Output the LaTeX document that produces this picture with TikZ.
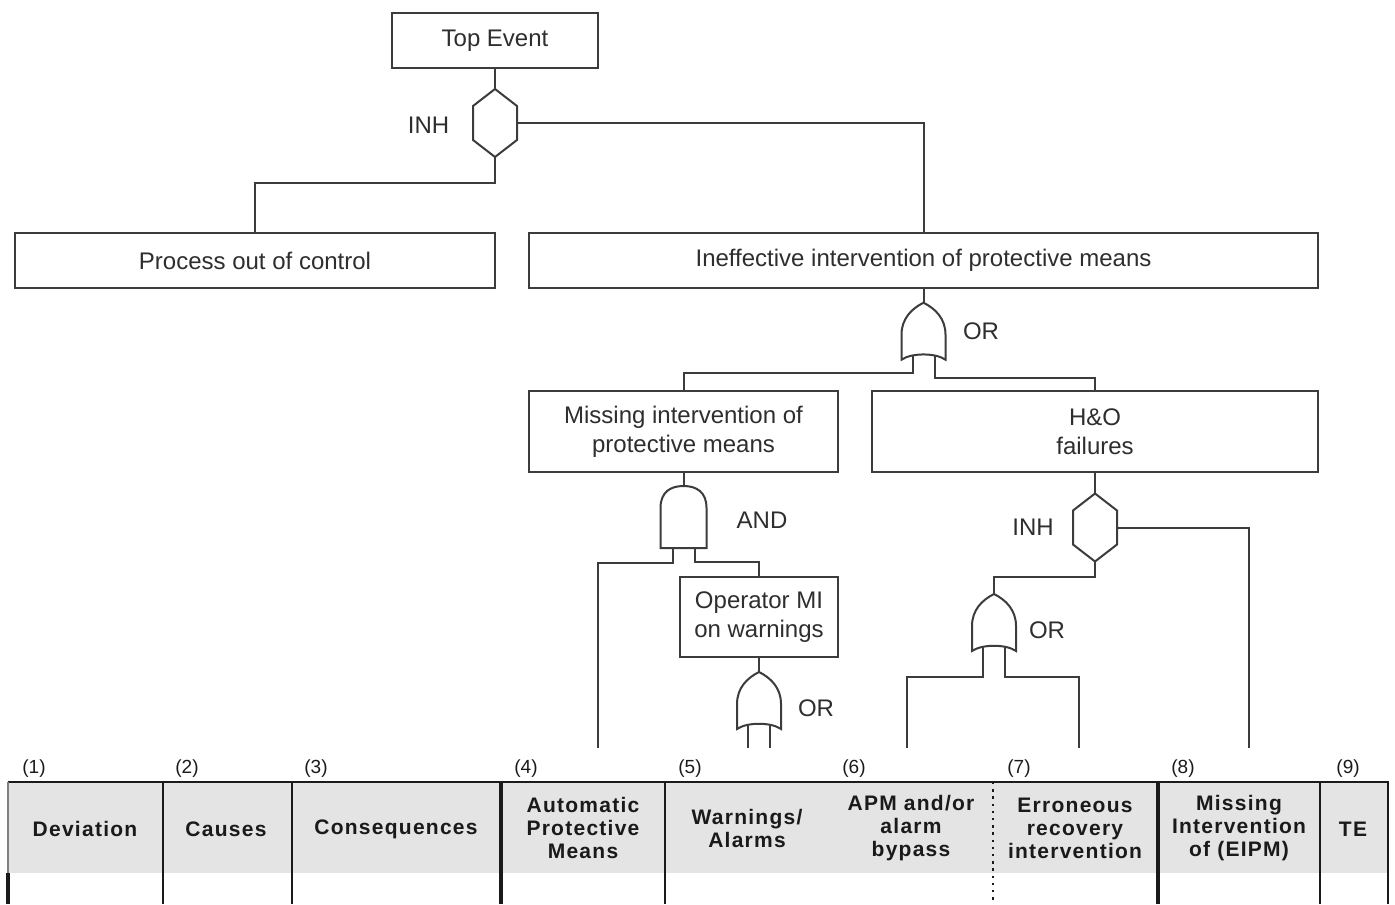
\documentclass[tikz,border=0pt]{standalone}
\usepackage{fontspec}
\setmainfont{Liberation Sans}
\newfontfamily\hdrfont[LetterSpace=6]{Liberation Sans}
\usetikzlibrary{calc}
\definecolor{linec}{HTML}{3C3C3C}
\definecolor{textc}{HTML}{2E2E2E}
\definecolor{hdrgray}{HTML}{E4E4E4}
\definecolor{tblc}{HTML}{1A1A1A}
\begin{document}
\begin{tikzpicture}[x=0.5pt,y=-0.5pt,
  conn/.style={draw=linec, line width=1pt},
  gateline/.style={draw=linec, line width=1pt, fill=white, line join=miter},
  box/.style={draw=linec, line width=1pt, fill=white, text=textc, align=center,
    inner sep=0pt, font=\fontsize{12}{14.5}\selectfont},
  lab/.style={text=textc, inner sep=0pt, font=\fontsize{12}{14}\selectfont},
  num/.style={text=tblc, inner sep=0pt, anchor=west, font=\fontsize{9.5}{11}\selectfont},
  hdr/.style={text=tblc, inner sep=0pt, align=center, font=\hdrfont\bfseries\fontsize{10.5}{11.5}\selectfont},
  tthin/.style={draw=tblc, line width=0.8pt},
  tthick/.style={draw=tblc, line width=1.6pt},
  inhgate/.pic={
    \draw[gateline] (0,-34) -- (22,-17) -- (22,17) -- (0,34) -- (-22,17) -- (-22,-17) -- cycle;
    \coordinate (-t) at (0,-34);
    \coordinate (-b) at (0,34);
    \coordinate (-r) at (22,0);
  },
  orgate/.pic={
    \draw[gateline] (0,0) .. controls (12,6) and (22,16) .. (22,32) -- (22,57)
      .. controls (12,50) and (-12,50) .. (-22,57) -- (-22,32)
      .. controls (-22,16) and (-12,6) .. (0,0) -- cycle;
    \coordinate (-t) at (0,0);
    \coordinate (-l) at (-11,53);
    \coordinate (-r) at (11,53);
  },
  andgate/.pic={
    \draw[gateline] (-23,62) -- (-23,22) .. controls (-23,6) and (-13,0) .. (0,0)
      .. controls (13,0) and (23,6) .. (23,22) -- (23,62) -- cycle;
    \coordinate (-t) at (0,0);
    \coordinate (-l) at (-11,62);
    \coordinate (-r) at (11.5,62);
  }
]
\useasboundingbox (0,0) rectangle (1395,904);

% ---------- boxes ----------
\node[box, minimum width=103pt, minimum height=27.5pt] (top) at (495,40.5) {Top Event};
\node[box, minimum width=240pt, minimum height=27.5pt] (proc) at (255,260.5) {Process out of control};
\node[box, minimum width=394.5pt, minimum height=27.5pt] (ineff) at (923.5,260.5) {Ineffective intervention of protective means};
\node[box, minimum width=154.5pt, minimum height=40.5pt] (miss) at (683.5,431.5) {Missing intervention of\\protective means};
\node[box, minimum width=223pt, minimum height=40.5pt] (ho) at (1095,431.5) {H\&O\\failures};
\node[box, minimum width=79pt, minimum height=40pt] (oper) at (759,617) {Operator MI\\on warnings};

% ---------- gates ----------
\pic (inh1) at (495,123) {inhgate};
\pic (inh2) at (1095,527.5) {inhgate};
\pic (or1) at (923.5,302.7) {orgate};
\pic (and1) at (683.5,486) {andgate};
\pic (or2) at (759,672) {orgate};
\pic (or3) at (994,594) {orgate};

\node[lab] (linh1) at (428.5,125) {INH};
\node[lab] (linh2) at (1033,527) {INH};
\node[lab] (lor1) at (981,331) {OR};
\node[lab] (land) at (762,520) {AND};
\node[lab] (lor2) at (816,708) {OR};
\node[lab] (lor3) at (1047,630) {OR};

% free ends above the table
\coordinate (e1) at (598,748);
\coordinate (e2) at (748,748);
\coordinate (e3) at (770,748);
\coordinate (e4) at (907,748);
\coordinate (e5) at (1079,748);
\coordinate (e6) at (1249,748);

% ---------- connectors ----------
\draw[conn] (top.south) -- (inh1-t);
\draw[conn] (inh1-r) -| (ineff.north);
\draw[conn] (inh1-b) -- ++(0,26) -| (proc.north);
\draw[conn] (ineff.south) -- (or1-t);
\draw[conn] (or1-l) -- ++(0,17.3) -| (miss.north);
\draw[conn] (or1-r) -- ++(0,22.3) -| (ho.north);
\draw[conn] (miss.south) -- (and1-t);
\draw[conn] (and1-l) -- ++(0,15.3) -| (e1);
\draw[conn] (and1-r) -- ++(0,13.7) -| (oper.north);
\draw[conn] (oper.south) -- (or2-t);
\draw[conn] (or2-l) -- (e2);
\draw[conn] (or2-r) -- (e3);
\draw[conn] (ho.south) -- (inh2-t);
\draw[conn] (inh2-r) -| (e6);
\draw[conn] (inh2-b) -- ++(0,15.5) -| (or3-t);
\draw[conn] (or3-l) -- ++(0,30.3) -| (e4);
\draw[conn] (or3-r) -- ++(0,30.3) -| (e5);

% ---------- table ----------
\fill[hdrgray] (9,783) rectangle (1387,873);
\draw[tthin] (7.5,782) -- (1388.5,782);
\draw[draw=gray, line width=0.6pt] (8,782) -- (8,873);
\draw[tthick] (8,873) -- (8,904);
\draw[tthin] (163,782) -- (163,904);
\draw[tthin] (292,782) -- (292,904);
\draw[tthick] (501,782) -- (501,904);
\draw[tthin] (665,782) -- (665,904);
\draw[draw=tblc, line width=0.6pt, dash pattern=on 1.2pt off 2.4pt] (993,782) -- (993,904);
\draw[tthick] (1158,782) -- (1158,904);
\draw[tthin] (1320,782) -- (1320,904);
\draw[tthin] (1388,782) -- (1388,904);

\node[num] (n1) at (22,769) {(1)};
\node[num] (n2) at (175,769) {(2)};
\node[num] (n3) at (304,769) {(3)};
\node[num] (n4) at (514,769) {(4)};
\node[num] (n5) at (678,769) {(5)};
\node[num] (n6) at (842,769) {(6)};
\node[num] (n7) at (1007,769) {(7)};
\node[num] (n8) at (1171,769) {(8)};
\node[num] (n9) at (1336,769) {(9)};

\node[hdr] (h1) at (85,829) {Deviation};
\node[hdr] (h2) at (226,829) {Causes};
\node[hdr] (h3) at (396,829) {Consequences};
\node[hdr] (h4) at (583,828) {Automatic\\Protective\\Means};
\node[hdr] (h5) at (747,828) {Warnings/\\Alarms};
\node[hdr] (h6) at (911,828) {APM and/or\\alarm\\bypass};
\node[hdr] (h7) at (1075,828) {Erroneous\\recovery\\intervention};
\node[hdr] (h8) at (1239,828) {Missing\\Intervention\\of (EIPM)};
\node[hdr] (h9) at (1353,829) {TE};
\end{tikzpicture}
\end{document}
